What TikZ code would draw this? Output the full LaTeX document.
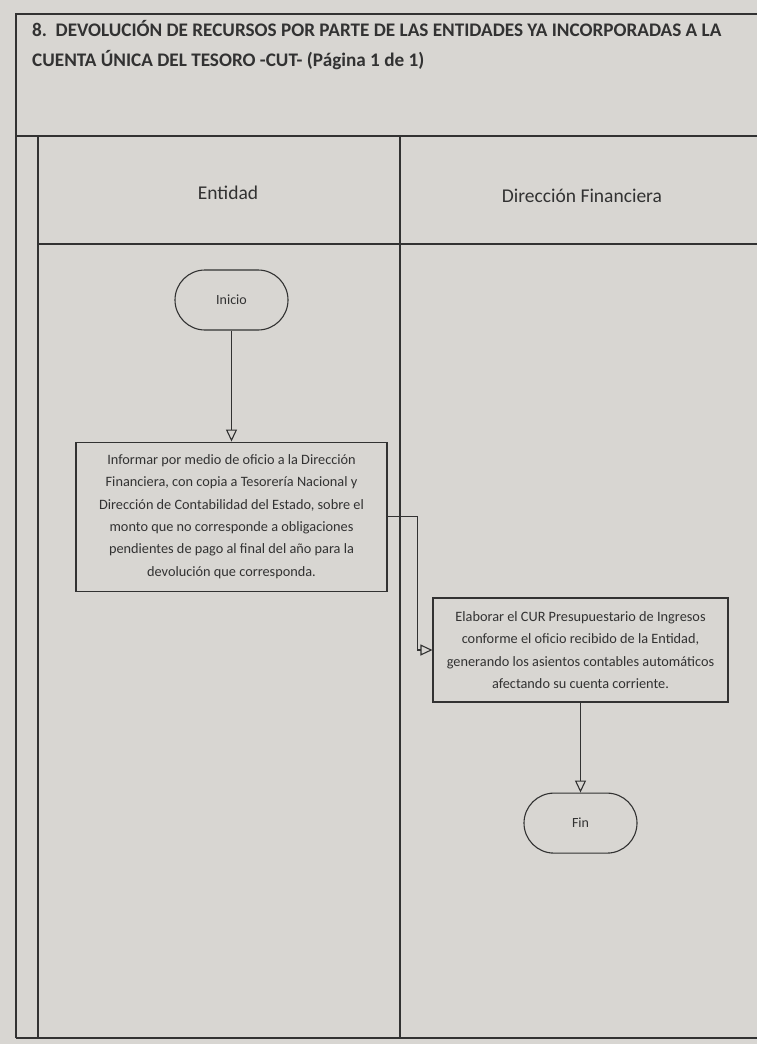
\documentclass[tikz,border=0pt]{standalone}
\usepackage{fontspec}
\setmainfont{Carlito}
\usetikzlibrary{positioning,arrows.meta}
\definecolor{flpaper}{RGB}{216,214,210}
\definecolor{flink}{RGB}{50,50,50}

\begin{document}
\begin{tikzpicture}[x=1pt,y=-1pt,
      node distance=0.55cm,
      frame/.style={draw=flink, line width=1.1pt},
      lane/.style={text=flink, font=\fontsize{19.5}{23}\selectfont},
      proc/.style={draw=flink, line width=1.1pt, text=flink, align=center, inner sep=0pt, font=\fontsize{14.3}{22.3}\selectfont},
      term/.style={draw=flink, line width=1.1pt, text=flink, rounded corners=30pt, minimum width=113pt, minimum height=60pt, font=\fontsize{14}{16}\selectfont},
      arrow/.style={-{Triangle[open,length=12pt,width=11pt]}, line width=1.1pt, draw=flink}
    ]
      \useasboundingbox[fill=flpaper] (0,0) rectangle (757,1044);
      % frame and swimlanes
      \draw[frame] (16,1038) -- (16,14) -- (760,14);
      \draw[frame] (16,136) -- (760,136);
      \draw[frame] (38,136) -- (38,1038);
      \draw[frame] (38,244) -- (760,244);
      \draw[frame] (400,136) -- (400,1038);
      \draw[frame] (16,1038) -- (760,1038);
      \node[anchor=north west, align=left, text=flink, inner sep=0pt, font=\bfseries\fontsize{19.2}{30}\selectfont] (title) at (32,20)
        {8.\ \ DEVOLUCIÓN DE RECURSOS POR PARTE DE LAS ENTIDADES YA INCORPORADAS A LA\\ CUENTA ÚNICA DEL TESORO -CUT- (Página 1 de 1)};
      \node[lane] (entidad) at (228,193) {Entidad};
      \node[lane] (direccion) at (582,196) {Dirección Financiera};
      % flow
      \node[term] (ini) at (231.5,300) {Inicio};
      \node[proc, minimum width=311pt, minimum height=149pt, below=111pt of ini] (act1)
        {Informar por medio de oficio a la Dirección\\ Financiera, con copia a Tesorería Nacional y\\ Dirección de Contabilidad del Estado, sobre el\\ monto que no corresponde a obligaciones\\ pendientes de pago al final del año para la\\ devolución que corresponda.};
      \node[proc, minimum width=295pt, minimum height=104pt] (act2) at (580.5,650)
        {Elaborar el CUR Presupuestario de Ingresos\\ conforme el oficio recibido de la Entidad,\\ generando los asientos contables automáticos\\ afectando su cuenta corriente.};
      \node[term, below=90pt of act2] (fin) {Fin};
      \coordinate[right=30pt of act1.east] (turn);
      \draw[arrow] (ini) -- (act1);
      \draw[arrow] (act1.east) -- (turn) |- (act2.west);
      \draw[arrow] (act2) -- (fin);
    \end{tikzpicture}
\end{document}
